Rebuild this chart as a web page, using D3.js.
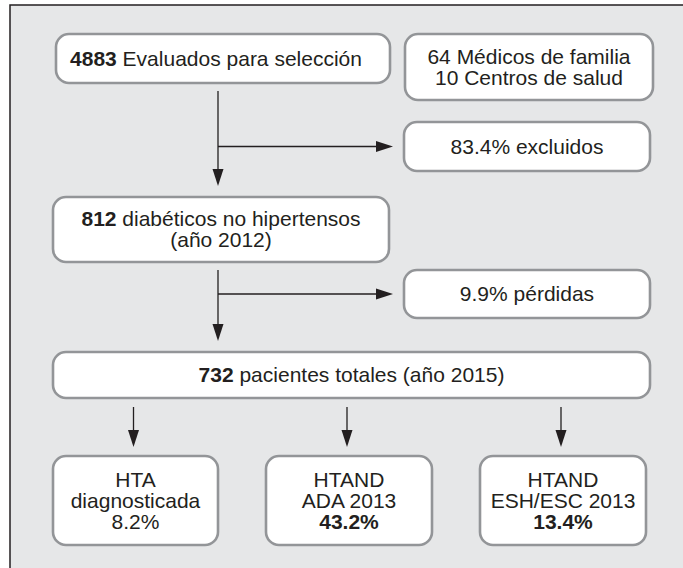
<!DOCTYPE html>
<html>
<head>
<meta charset="utf-8">
<script src="https://cdn.jsdelivr.net/npm/d3@7"></script>
<style>
  html, body { margin: 0; padding: 0; background: #fff; }
  #main-frame { width: 683px; height: 568px; }
  text { font-family: "Liberation Sans", Arial, sans-serif; fill: #231f20; }
</style>
</head>
<body>
<div id="main-frame"></div>
<script>
// texto de cada caja: lineas con [parte en negrita, parte normal]
var nodeIds = ["evaluados", "centros", "excluidos", "diabeticos", "perdidas", "totales", "hta", "ada", "esh"];
var nodeLines = [
  [["4883", " Evaluados para selección"]],
  [["", "64 Médicos de familia"], ["", "10 Centros de salud"]],
  [["", "83.4% excluidos"]],
  [["812", " diabéticos no hipertensos"], ["", "(año 2012)"]],
  [["", "9.9% pérdidas"]],
  [["732", " pacientes totales (año 2015)"]],
  [["", "HTA"], ["", "diagnosticada"], ["", "8.2%"]],
  [["", "HTAND"], ["", "ADA 2013"], ["43.2%", ""]],
  [["", "HTAND"], ["", "ESH/ESC 2013"], ["13.4%", ""]]
];
// flechas: tronco vertical con rama lateral, y flechas simples hacia abajo
var trunkLinks = [["evaluados", "diabeticos", "excluidos"], ["diabeticos", "totales", "perdidas"]];
var downLinks = [["totales", "hta"], ["totales", "ada"], ["totales", "esh"]];

var mainSVG;
var frameWidth = 683;
var frameHeight = 568;

// geometria (px) de cada caja; tx = desplazamiento del texto
var layout = {
  evaluados:  { x0: 56,  x1: 390, y0: 34,  y1: 83, tx: -7 },
  centros:    { x0: 405, x1: 653, y0: 34,  y1: 100 },
  excluidos:  { x0: 404, x1: 650, y0: 122, y1: 171 },
  diabeticos: { x0: 53,  x1: 389, y0: 197, y1: 262 },
  perdidas:   { x0: 404, x1: 650, y0: 270, y1: 318 },
  totales:    { x0: 53,  x1: 650, y0: 352, y1: 398 },
  hta:        { x0: 53,  x1: 218, y0: 456, y1: 545 },
  ada:        { x0: 266, x1: 432, y0: 456, y1: 545 },
  esh:        { x0: 480, x1: 646, y0: 456, y1: 545 }
};
var trunkX = 218;
var lineHeight = 21;
var fontSize = 21;

function arrowHead(x, y, dir) {
  // triangulo relleno con la punta en (x, y)
  var len = 17, half = 5.5;
  var p = d3.path();
  if (dir === "down") {
    p.moveTo(x, y); p.lineTo(x - half, y - len); p.lineTo(x + half, y - len);
  } else {
    p.moveTo(x, y); p.lineTo(x - len, y - half); p.lineTo(x - len, y + half);
  }
  p.closePath();
  mainSVG.append("path").attr("d", p.toString()).attr("fill", "#231f20");
}

function drawLine(x1, y1, x2, y2) {
  mainSVG.append("line")
    .attr("x1", x1).attr("y1", y1)
    .attr("x2", x2).attr("y2", y2)
    .style("stroke", "#231f20")
    .style("stroke-width", 1.3);
}

mainSVG = d3.select("#main-frame")
  .append("svg")
  .attr("width", frameWidth)
  .attr("height", frameHeight);

// fondo gris con marco
mainSVG.append("rect")
  .attr("x", 10).attr("y", 5)
  .attr("width", frameWidth + 20).attr("height", frameHeight + 20)
  .attr("fill", "#e6e7e8")
  .style("stroke", "#231f20")
  .style("stroke-width", 1.5);

// cajas
var nodes = nodeIds.map(function(id, i) {
  return { id: id, lines: nodeLines[i], box: layout[id] };
});

var g = mainSVG.selectAll("g.node")
  .data(nodes)
  .enter().append("g")
  .attr("class", "node");

g.append("rect")
  .attr("x", function(d) { return d.box.x0; })
  .attr("y", function(d) { return d.box.y0; })
  .attr("width", function(d) { return d.box.x1 - d.box.x0; })
  .attr("height", function(d) { return d.box.y1 - d.box.y0; })
  .attr("rx", 13).attr("ry", 13)
  .attr("fill", "#fff")
  .style("stroke", "#939598")
  .style("stroke-width", 2.6);

g.each(function(d) {
  var cx = (d.box.x0 + d.box.x1) / 2 + (d.box.tx || 0);
  var cy = (d.box.y0 + d.box.y1) / 2;
  var n = d.lines.length;
  var firstBase = cy - (n - 1) / 2 * lineHeight + fontSize * 0.35;
  var sel = d3.select(this);
  d.lines.forEach(function(line, j) {
    var t = sel.append("text")
      .attr("x", cx)
      .attr("y", firstBase + j * lineHeight)
      .attr("text-anchor", "middle")
      .style("font-size", fontSize + "px");
    if (line[0]) t.append("tspan").style("font-weight", "bold").text(line[0]);
    if (line[1]) t.append("tspan").text(line[1]);
  });
});

// flechas del tronco con su rama lateral
trunkLinks.forEach(function(l) {
  var a = layout[l[0]], b = layout[l[1]], side = layout[l[2]];
  var top = a.y1 + 8;
  var tip = b.y0 - 11;
  var branchY = (side.y0 + side.y1) / 2;
  drawLine(trunkX, top, trunkX, tip - 10);
  arrowHead(trunkX, tip, "down");
  drawLine(trunkX, branchY, side.x0 - 20, branchY);
  arrowHead(side.x0 - 11, branchY, "right");
});

// flechas hacia las tres cajas finales
downLinks.forEach(function(l) {
  var a = layout[l[0]], b = layout[l[1]];
  var x = (b.x0 + b.x1) / 2 - 2;
  drawLine(x, a.y1 + 9, x, b.y0 - 19);
  arrowHead(x, b.y0 - 9, "down");
});
</script>
</body>
</html>
